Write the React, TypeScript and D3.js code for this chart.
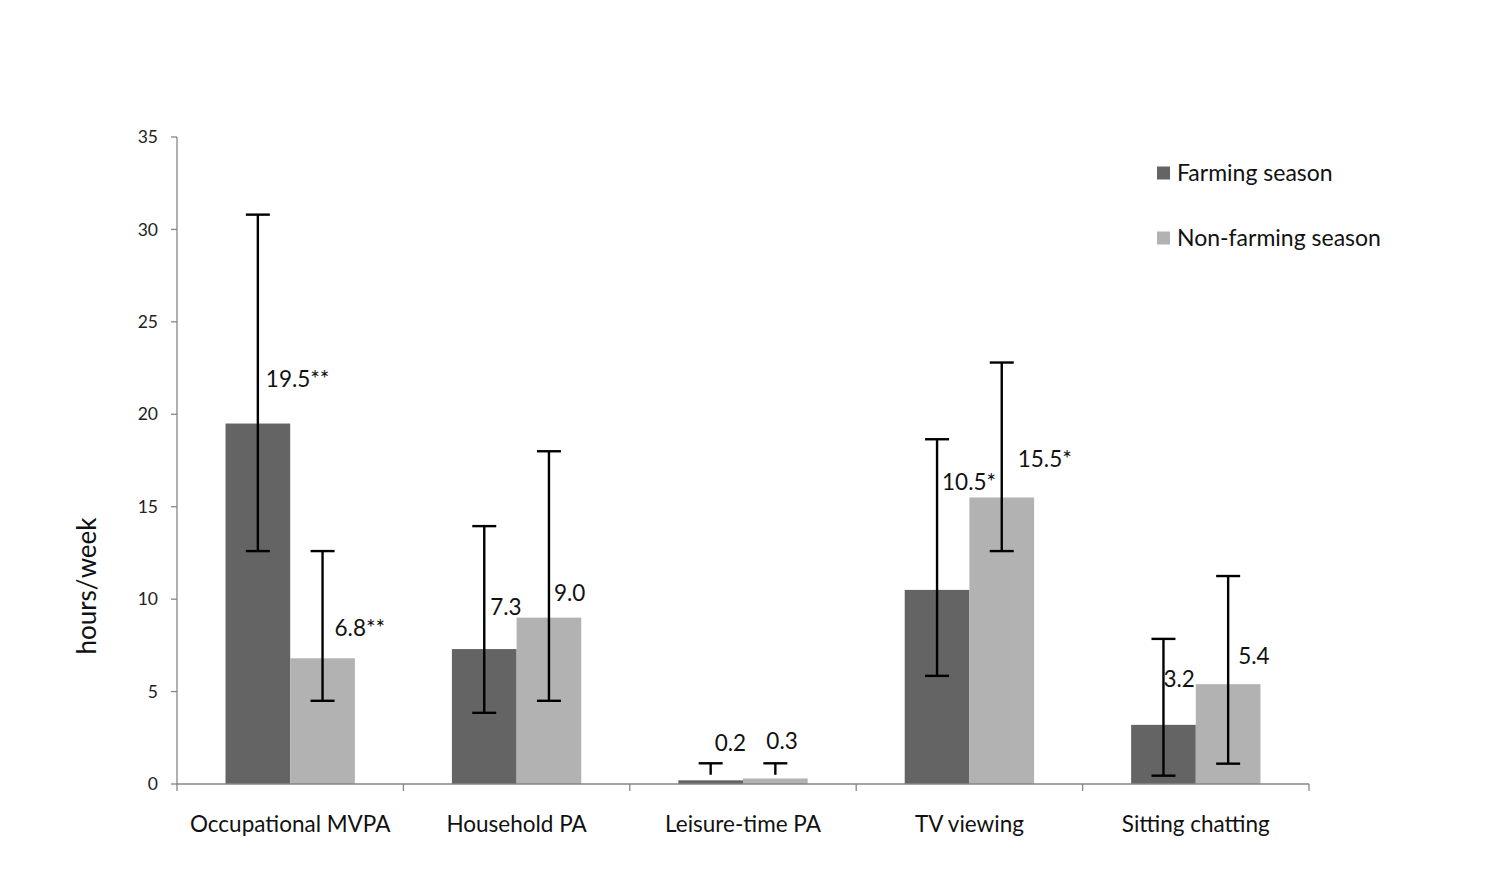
import React from "react";
import * as d3 from "d3";

const categories = ["Occupational MVPA", "Household PA", "Leisure-time PA", "TV viewing", "Sitting chatting"];
const seriesNames = ["Farming season", "Non-farming season"];
const farmingValues = [19.5, 7.3, 0.2, 10.5, 3.2];
const nonFarmingValues = [6.8, 9.0, 0.3, 15.5, 5.4];
const farmingLow = [12.6, 3.85, 0.5, 5.85, 0.45];
const farmingHigh = [30.8, 13.95, 1.12, 18.65, 7.85];
const nonFarmingLow = [4.5, 4.5, 0.5, 12.6, 1.1];
const nonFarmingHigh = [12.6, 18.0, 1.12, 22.8, 11.25];
const farmingLabels = ["19.5**", "7.3", "0.2", "10.5*", "3.2"];
const nonFarmingLabels = ["6.8**", "9.0", "0.3", "15.5*", "5.4"];
const yTicks = [0, 5, 10, 15, 20, 25, 30, 35];

// layout-only: label offsets (px) relative to bar centre / bar top
const farmingLabelOffsets = [[8, -44], [6, -42], [4, -37], [5, -108], [0, -46]];
const nonFarmingLabelOffsets = [[12, -30], [5, -25], [-9, -37], [16, -38], [10, -28]];

const COLORS = ["#646464", "#b2b2b2"];
const FONT = "Lato, 'Open Sans', sans-serif";

export default function App() {
  const W = 1492, H = 895;
  const left = 177, right = 1309, top = 137, bottom = 784;
  const y = d3.scaleLinear().domain([0, 35]).range([bottom, top]);
  const x0 = d3.scaleBand<string>().domain(categories).range([left, right]).paddingInner(0).paddingOuter(0);
  const x1 = d3.scaleBand<string>().domain(seriesNames).range([0, x0.bandwidth()]).paddingInner(0).paddingOuter(0.75);
  const bw = x1.bandwidth();

  const series = [
    { name: seriesNames[0], values: farmingValues, low: farmingLow, high: farmingHigh, labels: farmingLabels, offs: farmingLabelOffsets, color: COLORS[0] },
    { name: seriesNames[1], values: nonFarmingValues, low: nonFarmingLow, high: nonFarmingHigh, labels: nonFarmingLabels, offs: nonFarmingLabelOffsets, color: COLORS[1] },
  ];

  const boundaries = [...categories.map((c) => x0(c)!), right];
  const axisColor = "#868686";
  const cap = 12;

  return (
    <>
      <style>{`body{margin:0}`}</style>
      <svg width={W} height={H} style={{ display: "block", background: "#fff" }} fontFamily={FONT}>
        {/* bars */}
        {series.map((s) =>
          categories.map((c, i) => {
            const bx = x0(c)! + x1(s.name)!;
            return <rect key={s.name + c} x={bx} y={y(s.values[i])} width={bw} height={y(0) - y(s.values[i])} fill={s.color} />;
          })
        )}
        {/* axes */}
        <line x1={left} x2={left} y1={top} y2={bottom} stroke={axisColor} strokeWidth={1.3} />
        <line x1={left - 1} x2={right} y1={bottom} y2={bottom} stroke={axisColor} strokeWidth={1.3} />
        {yTicks.map((t) => (
          <g key={t}>
            <line x1={left - 6} x2={left} y1={y(t)} y2={y(t)} stroke={axisColor} strokeWidth={1.3} />
            <text x={158} y={y(t)} dy="0.35em" textAnchor="end" fontSize={17.5} fill="#222">
              {t}
            </text>
          </g>
        ))}
        {boundaries.map((b, i) => (
          <line key={i} x1={b} x2={b} y1={bottom} y2={bottom + 7} stroke={axisColor} strokeWidth={1.3} />
        ))}
        {categories.map((c) => (
          <text key={c} x={x0(c)! + x0.bandwidth() / 2} y={832} textAnchor="middle" fontSize={22.5} fill="#111">
            {c}
          </text>
        ))}
        {/* error bars */}
        {series.map((s) =>
          categories.map((c, i) => {
            const cx = x0(c)! + x1(s.name)! + bw / 2;
            const yl = y(s.low[i]);
            const yh = y(s.high[i]);
            return (
              <g key={"e" + s.name + c} stroke="#000" strokeWidth={2.4}>
                <line x1={cx} x2={cx} y1={yl} y2={yh} />
                <line x1={cx - cap} x2={cx + cap} y1={yh} y2={yh} />
                {s.low[i] < s.values[i] && <line x1={cx - cap} x2={cx + cap} y1={yl} y2={yl} />}
              </g>
            );
          })
        )}
        {/* value labels */}
        {series.map((s) =>
          categories.map((c, i) => {
            const cx = x0(c)! + x1(s.name)! + bw / 2;
            return (
              <text key={"l" + s.name + c} x={cx + s.offs[i][0]} y={y(s.values[i]) + s.offs[i][1]} dy="0.35em" fontSize={22.5} fill="#111">
                {s.labels[i]}
              </text>
            );
          })
        )}
        {/* y title */}
        <text transform={`translate(96,586) rotate(-90)`} textAnchor="middle" fontSize={26} fill="#111">
          hours/week
        </text>
        {/* legend */}
        {series.map((s, i) => (
          <g key={"lg" + i} transform={`translate(1157, ${173 + i * 65})`}>
            <rect x={0} y={-6.5} width={13} height={13} fill={s.color} />
            <text x={20} y={0} dy="0.35em" fontSize={23} fill="#111">
              {s.name}
            </text>
          </g>
        ))}
      </svg>
    </>
  );
}
